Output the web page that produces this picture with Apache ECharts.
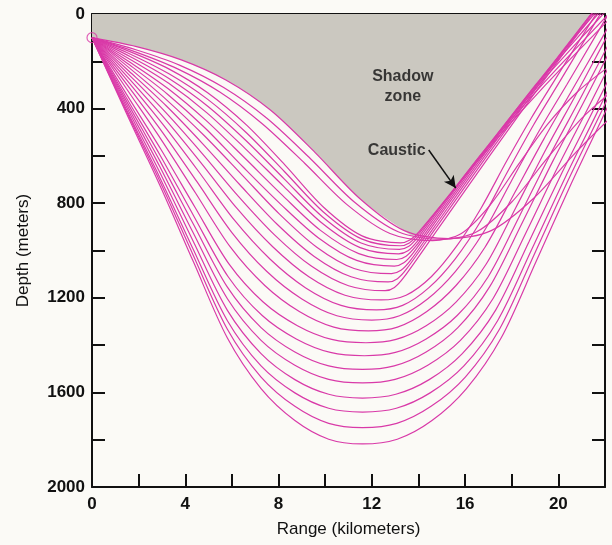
<!DOCTYPE html>
<html>
<head>
<meta charset="utf-8">
<script src="https://cdn.jsdelivr.net/npm/echarts@6/dist/echarts.min.js"></script>
<style>
	html, body { margin: 0; padding: 0; background: #fbfaf6; }
	#app { width: 612px; height: 545px; }
</style>
</head>
<body>
<div id="app"></div>
<script>
// tick labels
const rangeLabels = [0, 4, 8, 12, 16, 20];
const depthLabels = [0, 400, 800, 1200, 1600, 2000];

// sound source [range km, depth m]
const source = [0, 100];

// rays that turn near 950 m and come back up slowly
const shallowRays = [
	[[0,100],[1.91,138],[3.83,194],[5.74,279],[7.65,406],[9.56,585],[11.48,780],[13.39,916],[15.3,950],[17.12,916],[18.93,780],[20.75,585],[22.57,406]],
	[[0,100],[1.88,151],[3.75,216],[5.63,310],[7.5,441],[9.38,613],[11.25,795],[13.13,921],[15,953],[16.5,921],[18,795],[19.5,613],[21,441],[22.5,310]],
	[[0,100],[1.83,159],[3.65,231],[5.48,330],[7.3,464],[9.13,632],[10.95,807],[12.78,928],[14.6,958],[15.84,928],[17.08,807],[18.32,632],[19.56,464],[20.81,330],[22.05,231]]
];

// rays that bunch up along the caustic
const causticRays = [
	[[0,100],[1.65,160],[3.31,233],[4.96,333],[6.62,469],[8.27,638],[9.92,816],[11.58,938],[13.23,968],[13.63,956],[14.03,920],[16.72,600],[19.45,300],[22.4,0],[22.9,-50]],
	[[0,100],[1.65,170],[3.3,253],[4.95,360],[6.61,501],[8.26,667],[9.91,836],[11.56,951],[13.21,980],[13.61,968],[14.01,930],[14.25,900],[16.66,600],[19.3,300],[22.15,0],[22.6,-50]],
	[[0,100],[1.65,181],[3.3,273],[4.95,389],[6.6,535],[8.24,697],[9.89,858],[11.54,968],[13.19,995],[13.59,982],[13.99,943],[14.32,900],[16.63,600],[19.16,300],[21.92,0],[22.5,-65]],
	[[0,100],[1.64,192],[3.29,293],[4.93,418],[6.57,569],[8.22,729],[9.86,884],[11.5,988],[13.15,1014],[13.55,1001],[13.95,961],[14.4,900],[16.65,600],[19.06,300],[21.7,0],[22.5,-95]],
	[[0,100],[1.63,204],[3.27,316],[4.9,451],[6.54,608],[8.17,767],[9.8,915],[11.44,1013],[13.07,1038],[13.47,1024],[13.87,984],[14.49,900],[16.7,600],[19.02,300],[21.54,0],[22.5,-115]],
	[[0,100],[1.62,216],[3.24,339],[4.86,483],[6.49,648],[8.11,806],[9.73,948],[11.35,1042],[12.97,1066],[13.37,1052],[13.77,1011],[14.58,900],[16.77,600],[19.05,300],[21.41,0],[22.5,-138]],
	[[0,100],[1.61,229],[3.21,364],[4.82,515],[6.43,680],[8.03,845],[9.64,986],[11.24,1076],[12.85,1098],[13.25,1084],[13.65,1043],[14.68,900],[16.85,600],[19.1,300],[21.4,0],[22.5,-143]],
	[[0,100],[1.59,242],[3.18,388],[4.76,550],[6.35,723],[7.94,889],[9.53,1025],[11.11,1111],[12.7,1133],[13.1,1119],[13.5,1077],[14.78,900],[16.94,600],[19.16,300],[21.42,0],[22.5,-143]],
	[[0,100],[1.57,255],[3.14,414],[4.71,588],[6.28,771],[7.85,936],[9.42,1067],[11,1149],[12.57,1170],[12.97,1156],[13.37,1114],[14.9,900],[17.05,600],[19.24,300],[21.46,0],[22.5,-140]]
];

// steep rays, deepest turning points
const deepRays = [
	[[0,100],[1.55,269],[3.1,440],[4.65,626],[6.2,820],[7.75,984],[9.3,1111],[10.85,1189],[12.4,1209],[13.47,1189],[14.55,1111],[15.62,984],[16.69,820],[17.76,626],[18.84,440],[19.91,269],[20.98,100],[22,-60]],
	[[0,100],[1.53,284],[3.05,468],[4.58,667],[6.1,871],[7.63,1036],[9.15,1157],[10.68,1232],[12.2,1251],[13.32,1232],[14.45,1157],[15.57,1036],[16.7,871],[17.82,667],[18.94,468],[20.07,284],[21.19,100],[22.2,-66]],
	[[0,100],[1.5,299],[3,497],[4.5,709],[6,924],[7.5,1089],[9,1205],[10.5,1276],[12,1294],[13.19,1276],[14.39,1205],[15.58,1089],[16.78,924],[17.97,709],[19.16,497],[20.36,299],[21.55,100],[22.5,-59]],
	[[0,100],[1.48,316],[2.96,530],[4.44,757],[5.93,985],[7.41,1148],[8.89,1258],[10.37,1324],[11.85,1340],[13.1,1324],[14.36,1258],[15.61,1148],[16.86,985],[18.12,757],[19.37,530],[20.62,316],[21.88,100],[22.5,-7]],
	[[0,100],[1.47,338],[2.94,570],[4.41,816],[5.88,1058],[7.34,1218],[8.81,1318],[10.28,1376],[11.75,1390],[13.04,1376],[14.33,1318],[15.61,1218],[16.9,1058],[18.19,816],[19.48,570],[20.77,338],[22.06,100]],
	[[0,100],[1.46,352],[2.92,597],[4.38,857],[5.84,1111],[7.3,1275],[8.76,1374],[10.22,1431],[11.68,1445],[13.01,1431],[14.33,1374],[15.66,1275],[16.99,1111],[18.32,857],[19.64,597],[20.97,352],[22.3,100]],
	[[0,100],[1.45,363],[2.9,619],[4.35,889],[5.8,1154],[7.25,1326],[8.7,1429],[10.15,1488],[11.6,1503],[12.96,1488],[14.33,1429],[15.69,1326],[17.05,1154],[18.42,889],[19.78,619],[21.14,363],[22.5,100]],
	[[0,100],[1.45,375],[2.9,644],[4.35,927],[5.8,1203],[7.25,1380],[8.7,1485],[10.15,1545],[11.6,1560],[13,1545],[14.4,1485],[15.8,1380],[17.2,1203],[18.6,927],[19.99,644],[21.39,375],[22.79,100]],
	[[0,100],[1.45,387],[2.9,668],[4.35,963],[5.8,1252],[7.25,1436],[8.7,1546],[10.15,1608],[11.6,1624],[13.03,1608],[14.46,1546],[15.88,1436],[17.31,1252],[18.74,963],[20.17,668],[21.6,387],[23.03,100]],
	[[0,100],[1.45,399],[2.9,690],[4.35,997],[5.8,1296],[7.25,1488],[8.7,1602],[10.15,1667],[11.6,1683],[13.05,1667],[14.5,1602],[15.95,1488],[17.4,1296],[18.85,997],[20.3,690],[21.75,399],[23.2,100]],
	[[0,100],[1.45,406],[2.9,705],[4.35,1022],[5.8,1332],[7.25,1535],[8.7,1659],[10.15,1731],[11.6,1749],[13.07,1731],[14.54,1659],[16.01,1535],[17.48,1332],[18.94,1022],[20.41,705],[21.88,406],[23.35,100]],
	[[0,100],[1.45,414],[2.9,722],[4.35,1048],[5.8,1369],[7.25,1584],[8.7,1719],[10.15,1798],[11.6,1818],[13.09,1798],[14.58,1719],[16.06,1584],[17.55,1369],[19.04,1048],[20.53,722],[22.01,414],[23.5,100]]
];

// lower edge of the shadow zone: top ray down to the cusp, then the caustic
const shadowEdge = [[0,100],[1.91,138],[3.83,194],[5.74,279],[7.65,406],[9.56,585],[11.48,780],[13.39,916],[13.8,938],[14.2,900],[16.63,600],[19.02,300],[21.4,0]];

// annotations
const notes = [
	{ name: 'Shadow\nzone', value: [13.33, 305] },
	{ name: 'Caustic', value: [13.07, 579] }
];
const causticArrow = [[14.44, 575], [15.6, 736]];

const rayColor = '#d93aa8';
const ink = '#111';
const font = "'Liberation Sans', Arial, sans-serif";

let series = [{
	type: 'line',
	data: shadowEdge,
	smooth: 0.3,
	showSymbol: false,
	silent: true,
	lineStyle: { width: 0 },
	areaStyle: { color: '#cbc8c0', opacity: 1, origin: 'start' },
	z: 1
}];

shallowRays.concat(causticRays, deepRays).forEach(function(ray) {
	series.push({
		type: 'line',
		data: ray,
		smooth: 0.3,
		showSymbol: false,
		silent: true,
		clip: true,
		lineStyle: { color: rayColor, width: 1.2 },
		z: 3
	});
});

// source marker
series.push({
	type: 'scatter',
	data: [source],
	symbol: 'circle',
	symbolSize: 10,
	clip: false,
	silent: true,
	itemStyle: { color: 'rgba(0,0,0,0)', borderColor: rayColor, borderWidth: 1.2 },
	z: 5
});

// text notes and the arrow
series.push({
	type: 'scatter',
	data: notes,
	symbolSize: 0,
	silent: true,
	label: {
		show: true,
		position: 'inside',
		formatter: '{b}',
		color: ink,
		fontSize: 16,
		fontWeight: 'bold',
		lineHeight: 20,
		fontFamily: font
	},
	markLine: {
		silent: true,
		symbol: ['none', 'arrow'],
		symbolSize: [9, 12],
		label: { show: false },
		lineStyle: { color: ink, width: 1.5, type: 'solid' },
		data: [[{ coord: causticArrow[0] }, { coord: causticArrow[1] }]]
	},
	z: 6
});

function rangeAxis(pos, withLabels) {
	return {
		type: 'value',
		position: pos,
		min: 0,
		max: 22,
		interval: 2,
		axisLine: { show: true, onZero: false, lineStyle: { color: ink, width: 2 } },
		axisTick: { show: true, inside: true, length: 13, lineStyle: { color: ink, width: 2 } },
		axisLabel: {
			show: withLabels,
			margin: 9,
			color: ink,
			fontSize: 17,
			fontWeight: 'bold',
			fontFamily: font,
			formatter: function(v) { return rangeLabels.indexOf(v) >= 0 ? String(v) : ''; }
		},
		splitLine: { show: false },
		name: withLabels ? 'Range (kilometers)' : '',
		nameLocation: 'middle',
		nameGap: 34,
		nameTextStyle: { color: ink, fontSize: 17, fontFamily: font }
	};
}

function depthAxis(pos, withLabels) {
	return {
		type: 'value',
		position: pos,
		min: 0,
		max: 2000,
		interval: 200,
		inverse: true,
		axisLine: { show: true, onZero: false, lineStyle: { color: ink, width: 2 } },
		axisTick: { show: true, inside: true, length: 13, lineStyle: { color: ink, width: 2 } },
		axisLabel: {
			show: withLabels,
			margin: 7,
			color: ink,
			fontSize: 17,
			fontWeight: 'bold',
			fontFamily: font,
			formatter: function(v) { return depthLabels.indexOf(v) >= 0 ? String(v) : ''; }
		},
		splitLine: { show: false },
		name: withLabels ? 'Depth (meters)' : '',
		nameLocation: 'middle',
		nameGap: 60,
		nameTextStyle: { color: ink, fontSize: 17, fontFamily: font }
	};
}

let chart = echarts.init(document.getElementById('app'), null, { renderer: 'canvas' });
chart.setOption({
	backgroundColor: '#fbfaf6',
	animation: false,
	grid: { left: 92, right: 7, top: 14, bottom: 58, containLabel: false },
	xAxis: [rangeAxis('bottom', true), rangeAxis('top', false)],
	yAxis: [depthAxis('left', true), depthAxis('right', false)],
	series: series
});
</script>
</body>
</html>
